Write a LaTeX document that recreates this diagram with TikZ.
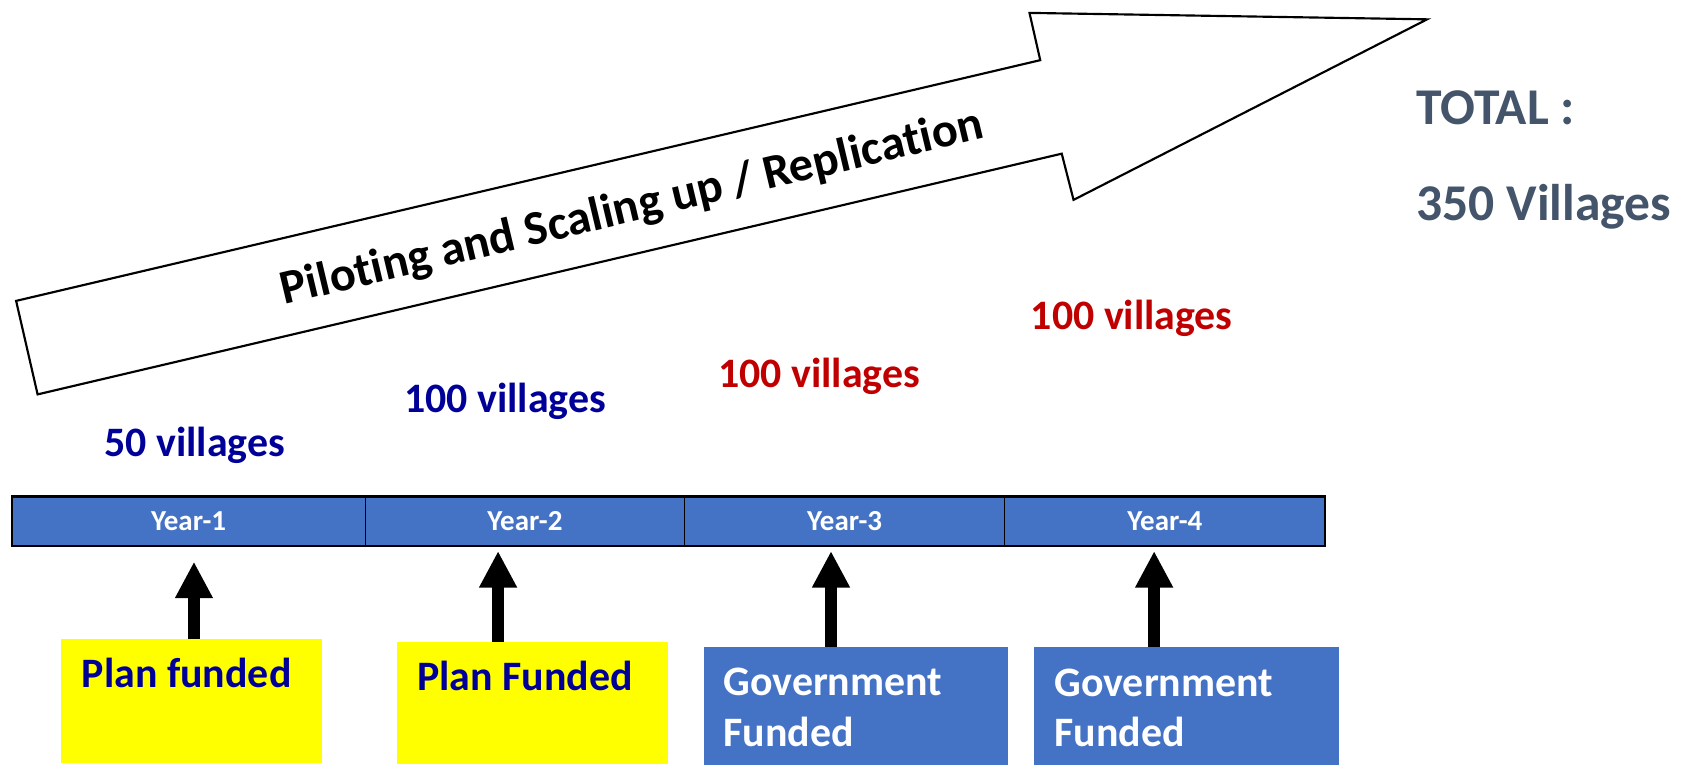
\documentclass[tikz,border=0pt]{standalone}
\usepackage{fontspec}
\setmainfont{Carlito}[Ligatures={NoCommon}]
\usetikzlibrary{arrows.meta}
\definecolor{barblue}{HTML}{4472C4}
\definecolor{navyv}{RGB}{0,0,153}
\definecolor{redv}{HTML}{C00000}
\definecolor{slatev}{HTML}{44546A}
\definecolor{planyellow}{HTML}{FFFF00}
\tikzset{
  yearcell/.style={draw=black, line width=1.2pt, fill=barblue, anchor=north west, inner sep=0pt, outer sep=0pt,
     minimum height=46pt, text=white, font=\bfseries\fontsize{27}{32}\selectfont},
  fundbox/.style={anchor=north west, inner sep=0pt, outer sep=0pt},
  bigtxt/.style={font=\bfseries\fontsize{39}{47}\selectfont, inner sep=0pt, anchor=base west},
  uparrow/.style={line width=11pt, -{Triangle[length=34pt,width=33pt]}},
}
\begin{document}
\begin{tikzpicture}[x=1pt,y=-1pt]
\useasboundingbox (0,0) rectangle (1568,711);
% big arrow
\draw[line width=2pt, line join=miter, fill=white]
  (15,280) -- (968,56) -- (958,12) -- (1328,18) -- (999,186) -- (988,143) -- (35,367) -- cycle;
\node[font=\bfseries\fontsize{45}{52}\selectfont, rotate=13.4, anchor=base, inner sep=0pt] (flow) at (591,206)
  {Piloting and Scaling up / Replication};
% total
\node[font=\bfseries\fontsize{48}{56}\selectfont, text=slatev, anchor=base west, inner sep=0pt] (total) at (1318,116) {TOTAL :};
\node[font=\bfseries\fontsize{48}{56}\selectfont, text=slatev, anchor=base west, inner sep=0pt] (tot350) at (1318,205) {350 Villages};
% village counts
\node[bigtxt, text=navyv] (v1) at (97,425) {50 villages};
\node[bigtxt, text=navyv] (v2) at (376,384) {100 villages};
\node[bigtxt, text=redv] (v3) at (668,361) {100 villages};
\node[bigtxt, text=redv] (v4) at (959,307) {100 villages};
% year bar
\node[yearcell, minimum width=329pt] (y1) at (11,462) {Year-1};
\node[yearcell, minimum width=297pt] (y2) at (340,462) {Year-2};
\node[yearcell, minimum width=298pt] (y3) at (637,462) {Year-3};
\node[yearcell, minimum width=298pt] (y4) at (935,462) {Year-4};
\draw[line width=2pt] (11,462) rectangle (1233,508);
% funding boxes
\node[fundbox, fill=planyellow, minimum width=243pt, minimum height=115pt] (f1) at (57,595) {};
\node[fundbox, fill=planyellow, minimum width=253pt, minimum height=114pt] (f2) at (369,597) {};
\node[fundbox, fill=barblue, minimum width=283pt, minimum height=110pt] (f3) at (655,602) {};
\node[fundbox, fill=barblue, minimum width=284pt, minimum height=110pt] (f4) at (962,602) {};
\node[bigtxt, text=navyv] (t1) at (76,640) {Plan funded};
\node[bigtxt, text=navyv] (t2) at (388,642.5) {Plan Funded};
\node[bigtxt, text=white] (t3) at (673,647) {Government};
\node[bigtxt, text=white] (t3b) at (673,695) {Funded};
\node[bigtxt, text=white] (t4) at (981,648) {Government};
\node[bigtxt, text=white] (t4b) at (981,695) {Funded};
% arrows
\coordinate (a1) at (180.5,522.7);
\coordinate (a2) at (463.5,512.8);
\coordinate (a3) at (773.3,512.8);
\coordinate (a4) at (1074,512.8);
\draw[uparrow] (f1.north -| a1) -- (a1);
\draw[uparrow] (f2.north -| a2) -- (a2);
\draw[uparrow] (f3.north -| a3) -- (a3);
\draw[uparrow] (f4.north -| a4) -- (a4);
\end{tikzpicture}
\end{document}
